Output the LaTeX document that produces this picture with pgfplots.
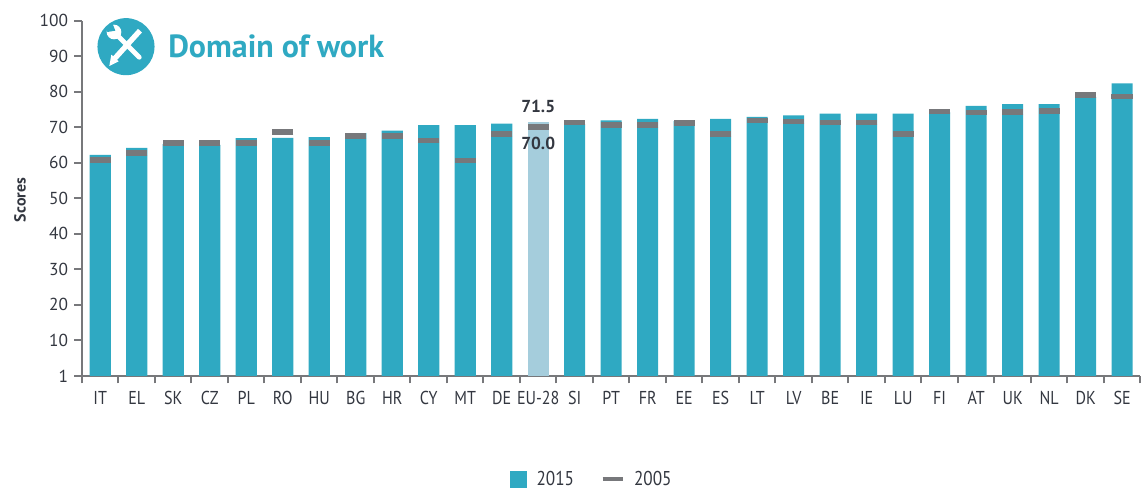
\documentclass[border=0pt]{standalone}
\usepackage{pgfplots}
\pgfplotsset{compat=1.18}
\usepackage{fontspec}
\setmainfont{PT Sans}
\newfontfamily\narrowfont[FakeStretch=0.86]{PT Sans}
\definecolor{teal2015}{HTML}{2FA9C2}
\definecolor{lightbar}{HTML}{A5CDDC}
\definecolor{mark2005}{HTML}{77787B}
\definecolor{axisgray}{HTML}{77787B}
\definecolor{labelcol}{HTML}{333740}
\begin{document}
\begin{tikzpicture}
\useasboundingbox (0,0) rectangle (861pt,366pt);
\begin{axis}[
    at={(61.5pt,84pt)}, anchor=south west,
    scale only axis, width=793.8pt, height=266.6pt,
    xmin=-0.5, xmax=28.5, ymin=0, ymax=100,
    axis lines=left, axis line style={-, axisgray, line width=2pt},
    clip=false,
    ytick={0,10,...,100},
    yticklabels={1,10,20,30,40,50,60,70,80,90,100},
    xtick={0,...,28},
    xticklabels={IT,EL,SK,CZ,PL,RO,HU,BG,HR,CY,MT,DE,EU-28,SI,PT,FR,EE,ES,LT,LV,BE,IE,LU,FI,AT,UK,NL,DK,SE},
    minor xtick={-0.5,0.5,...,28.5},
    tick align=outside,
    major tick length=6pt, minor tick length=5.5pt,
    tick style={axisgray, line width=1.5pt},
    major x tick style={draw=none},
    y tick label style={font=\fontsize{13}{13}\selectfont, text=labelcol, xshift=-1pt},
    x tick label style={font=\narrowfont\fontsize{14}{14}\selectfont, text=labelcol, yshift=-2pt, text height=10pt, text depth=0pt},
    legend columns=2,
    legend style={draw=none, fill=none, at={(0.482,-0.29)}, anchor=center,
        font=\narrowfont\fontsize{15}{15}\selectfont, text=labelcol,
        /tikz/every odd column/.append style={column sep=5pt},
        /tikz/every even column/.append style={column sep=18pt}},
]
% 2015 scores, EU-28 drawn on its own
\addplot[ybar, bar width=15.8pt, bar shift=0pt, fill=teal2015, draw=none,
    legend image code/.code={\fill[teal2015] (0pt,-6.4pt) rectangle (12.8pt,6.4pt);}]
    coordinates {(0,62.2) (1,64.2) (2,65.2) (3,65.0) (4,66.9) (5,67.0) (6,67.2) (7,68.3) (8,69.0) (9,70.6) (10,70.6) (11,71.0)
    (13,70.8) (14,71.9) (15,72.3) (16,71.7) (17,72.3) (18,72.9) (19,73.3) (20,73.8) (21,73.8) (22,73.8) (23,74.2) (24,76.0) (25,76.5) (26,76.5) (27,78.5) (28,82.3)};
\addlegendentry{2015}
\addplot[ybar, bar width=15.8pt, bar shift=0pt, fill=lightbar, draw=none, forget plot]
    coordinates {(12,71.5)};
% 2005 markers
\addplot[only marks, mark=-, mark size=8pt, mark options={mark2005, line width=4.2pt},
    legend image code/.code={\draw[mark2005, line width=3pt] (0pt,0pt) -- (15pt,0pt);}]
    coordinates {(0,60.7) (1,62.8) (2,65.6) (3,65.6) (4,65.5) (5,68.7) (6,65.5) (7,67.5) (8,67.5) (9,66.2) (10,60.6) (11,68.1) (12,70.0)
    (13,71.3) (14,70.6) (15,70.6) (16,71.2) (17,68.1) (18,71.9) (19,71.6) (20,71.3) (21,71.3) (22,68.1) (23,74.4) (24,74.1) (25,74.3) (26,74.6) (27,79.0) (28,78.6)};
\addlegendentry{2005}
\node[font=\bfseries\fontsize{13}{13}\selectfont, text=labelcol] at (axis cs:12,75.7) {71.5};
\node[font=\bfseries\fontsize{13}{13}\selectfont, text=labelcol] at (axis cs:12,65.3) {70.0};
\end{axis}
% axis title and heading, positions in px of the reference scaled by 0.75
\node[rotate=90, font=\bfseries\fontsize{12}{12}\selectfont, text=labelcol] at (15pt,216pt) {Scores};
\node[anchor=west, font=\bfseries\fontsize{24}{24}\selectfont, text=teal2015, inner sep=0pt] at (126pt,331pt) {Domain of work};
% icon
\begin{scope}[shift={(94.5pt,331pt)}]
\fill[teal2015] (0,0) circle (21.4pt);
\draw[white, line width=4pt] (10.5pt,12pt) -- (-9pt,-9.5pt);
\fill[white] (-12.5pt,-14.5pt) -- (-5.5pt,-11pt) -- (-11pt,-6pt) -- cycle;
\draw[white, line width=3.5pt, line cap=round] (-6pt,8pt) -- (10pt,-8pt);
\fill[white] (-9pt,11pt) circle (5.5pt);
\fill[teal2015] (-14pt,11pt) -- (-8pt,12pt) -- (-10pt,17pt) -- (-15pt,15pt) -- cycle;
\end{scope}
\end{tikzpicture}
\end{document}
